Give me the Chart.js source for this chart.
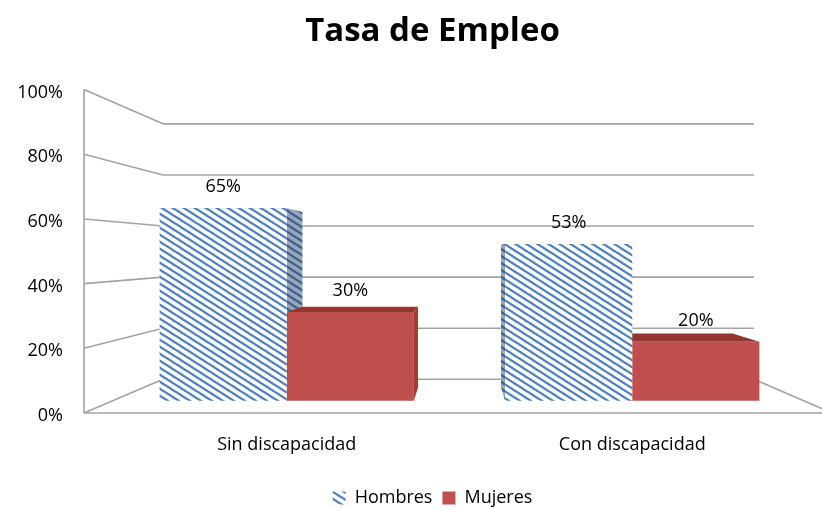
<!DOCTYPE html>
<html>
<head>
<meta charset="utf-8">
<script src="https://cdn.jsdelivr.net/npm/chart.js@4/dist/chart.umd.min.js"></script>
<style>
  html, body { margin:0; padding:0; background:#fff; }
  #wrap { width:822px; height:510px; }
</style>
</head>
<body>
<div id="wrap"><canvas id="chart"></canvas></div>
<script>
const categories = ["Sin discapacidad", "Con discapacidad"]
const hombres = [65, 53]
const mujeres = [30, 20]
const yTicks = [0, 20, 40, 60, 80, 100]

const FONT = "'Open Sans'"

function makeHatch(){
  const w = 11, h = 7
  const c = document.createElement("canvas")
  c.width = w
  c.height = h
  const g = c.getContext("2d")
  g.fillStyle = "#ffffff"
  g.fillRect(0, 0, w, h)
  g.strokeStyle = "#4f81bd"
  g.lineWidth = 2.3
  for (let k = -1; k <= 1; k++) {
    g.beginPath()
    g.moveTo(-w, -h + k*h)
    g.lineTo(2*w, 2*h + k*h)
    g.stroke()
  }
  return g.createPattern(c, "repeat")
}

const hatch = makeHatch()

// perspective helpers (vanishing point shared by walls and bars)
function vp(chart){
  const a = chart.chartArea
  return { x: a.left + 346, y: a.top + 163 }
}
function proj(p, v, s){
  return { x: v.x + (p.x - v.x)*s, y: v.y + (p.y - v.y)*s }
}

const walls = {
  id: "walls",
  afterLayout(chart){
    // title and legend sit a bit right of the plot centre
    ;[chart.titleBlock, chart.legend].forEach(b => {
      if (!b) return
      b.left += 30
      b.right += 30
    })
  },
  beforeDatasetsDraw(chart){
    const ctx = chart.ctx
    const a = chart.chartArea
    const y = chart.scales.y
    const v = vp(chart)
    const s = 0.79
    const x0 = a.left - 30
    const x1 = a.right + 27
    ctx.save()
    ctx.strokeStyle = "#a3a3a3"
    ctx.lineWidth = 1.6
    const line = (p, q) => {
      ctx.beginPath()
      ctx.moveTo(p.x, p.y)
      ctx.lineTo(q.x, q.y)
      ctx.stroke()
    }
    // front vertical edge
    line({x:x0, y:y.getPixelForValue(100)}, {x:x0, y:y.getPixelForValue(0)})
    yTicks.forEach(t => {
      const fl = {x:x0, y:y.getPixelForValue(t)}
      const fr = {x:x1, y:y.getPixelForValue(t)}
      const bl = proj(fl, v, s)
      const br = proj(fr, v, s)
      line(fl, bl)
      line(bl, br)
    })
    // floor
    const f0l = {x:x0, y:y.getPixelForValue(0)}
    const f0r = {x:x1, y:y.getPixelForValue(0)}
    line(f0l, f0r)
    line(proj(f0r, v, s), f0r)
    ctx.restore()

    // 3d sides and tops of the bars
    const d = 0.91
    chart.data.datasets.forEach((ds, i) => {
      const meta = chart.getDatasetMeta(i)
      meta.data.forEach(el => {
        const l = el.x - el.width/2
        const r = el.x + el.width/2
        const tl = {x:l, y:el.y}, tr = {x:r, y:el.y}
        const bl = {x:l, y:el.base}, br = {x:r, y:el.base}
        const side = r < v.x ? [tr, proj(tr, v, d), proj(br, v, d), br]
                             : [tl, proj(tl, v, d), proj(bl, v, d), bl]
        const top = [tl, tr, proj(tr, v, d), proj(tl, v, d)]
        ;[side, top].forEach((poly, n) => {
          ctx.save()
          ctx.beginPath()
          ctx.moveTo(poly[0].x, poly[0].y)
          poly.slice(1).forEach(p => ctx.lineTo(p.x, p.y))
          ctx.closePath()
          if (i === 0) {
            ctx.fillStyle = hatch
            ctx.fill()
            ctx.fillStyle = "rgba(30,55,95,0.45)"
            ctx.fill()
          } else {
            ctx.fillStyle = n === 0 ? "#a23c39" : "#953532"
            ctx.fill()
          }
          ctx.restore()
        })
      })
    })
  },
  afterDatasetsDraw(chart){
    const ctx = chart.ctx
    ctx.save()
    ctx.font = "18px " + FONT
    ctx.fillStyle = "#000"
    ctx.textAlign = "center"
    ctx.textBaseline = "middle"
    chart.data.datasets.forEach((ds, i) => {
      chart.getDatasetMeta(i).data.forEach((el, j) => {
        ctx.fillText(ds.data[j] + "%", el.x, el.y - 21)
      })
    })
    ctx.restore()
  }
}

const tickFont = { family: FONT, size: 18 }

new Chart(document.getElementById("chart"), {
  type: "bar",
  data: {
    labels: categories,
    datasets: [
      {
        label: "Hombres",
        data: hombres,
        backgroundColor: hatch,
        yAxisID: "yb",
        barPercentage: 1,
        categoryPercentage: 0.736
      },
      {
        label: "Mujeres",
        data: mujeres,
        backgroundColor: "#c0504d",
        yAxisID: "yb",
        barPercentage: 1,
        categoryPercentage: 0.736
      }
    ]
  },
  options: {
    responsive: true,
    maintainAspectRatio: false,
    animation: false,
    layout: { padding: { left: 0, right: 17, top: 0, bottom: -7 } },
    plugins: {
      title: {
        display: true,
        text: "Tasa de Empleo",
        color: "#000",
        font: { family: FONT, size: 33, weight: "bold" },
        padding: { top: 12, bottom: 38 }
      },
      legend: {
        position: "bottom",
        labels: {
          color: "#000",
          font: { family: FONT, size: 18 },
          boxWidth: 13,
          boxHeight: 13,
          padding: 10
        }
      },
      tooltip: { enabled: false }
    },
    scales: {
      x: {
        grid: { display: false },
        border: { display: false },
        ticks: { color: "#000", font: tickFont, padding: 13 },
        afterFit: s => { s.height = 66 }
      },
      y: {
        min: 0,
        max: 100,
        grid: { display: false },
        border: { display: false },
        ticks: {
          stepSize: 20,
          color: "#000",
          font: tickFont,
          padding: 43,
          labelOffset: 3,
          callback: v => v + "%"
        },
        afterFit: s => { s.width = 114 }
      },
      yb: {
        display: false,
        min: -4.1,
        max: 105.1
      }
    }
  },
  plugins: [walls]
})
</script>
</body>
</html>
